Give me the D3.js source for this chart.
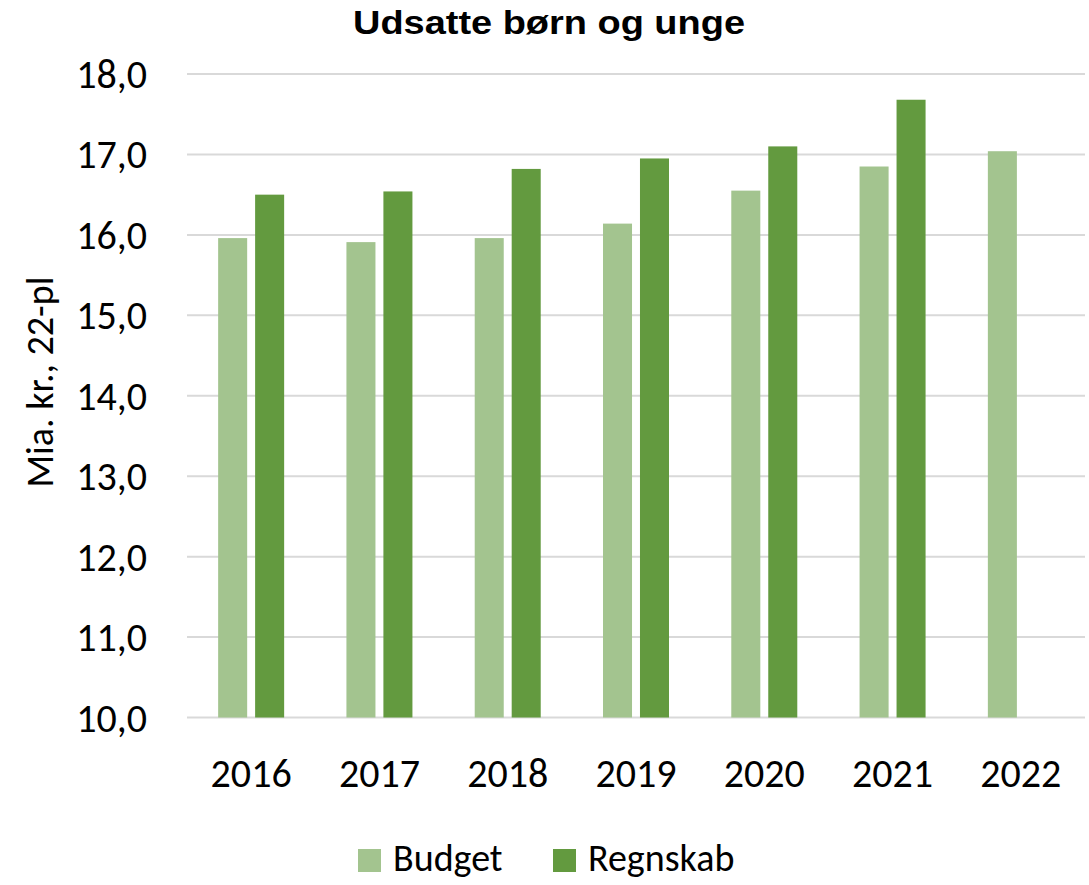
<!DOCTYPE html>
<html>
<head>
<meta charset="utf-8">
<script src="https://cdn.jsdelivr.net/npm/d3@7"></script>
<style>
  body { margin: 0; background: #fff; }
  svg text { fill: #000; }
</style>
</head>
<body>
<svg id="chart" width="1089" height="885"></svg>
<script>
const years = ["2016", "2017", "2018", "2019", "2020", "2021", "2022"];
const budget = [15.96, 15.91, 15.96, 16.14, 16.55, 16.85, 17.04];
const regnskab = [16.50, 16.54, 16.82, 16.95, 17.10, 17.68, null];
const seriesNames = ["Budget", "Regnskab"];
const yTicks = [10, 11, 12, 13, 14, 15, 16, 17, 18];

const colors = { Budget: "#A3C48F", Regnskab: "#639A3F" };
const tickFont = "Carlito, Calibri, 'Open Sans', sans-serif";

const margin = { top: 74, left: 187, right: 4, bottom: 168 };
const width = 1089, height = 885;

const svg = d3.select("#chart");

const x = d3.scaleBand()
  .domain(years)
  .range([margin.left, width - margin.right]);

const sub = d3.scaleBand()
  .domain(seriesNames)
  .range([0, 66])
  .paddingInner(0.215);

const y = d3.scaleLinear()
  .domain([10, 18])
  .range([height - margin.bottom + 0.5, margin.top]);

// gridlines
svg.append("g")
  .selectAll("line")
  .data(yTicks)
  .enter()
  .append("line")
  .attr("x1", margin.left)
  .attr("x2", width - margin.right)
  .attr("y1", (d) => y(d))
  .attr("y2", (d) => y(d))
  .attr("stroke", "#d9d9d9")
  .attr("stroke-width", 2);

// y tick labels
svg.append("g")
  .selectAll("text")
  .data(yTicks)
  .enter()
  .append("text")
  .attr("x", 147)
  .attr("y", (d) => y(d))
  .attr("dy", "0.35em")
  .attr("text-anchor", "end")
  .style("font-family", tickFont)
  .style("font-size", "40px")
  .text((d) => d3.format(".1f")(d).replace(".", ","));

// bars
const rows = years.map((yr, i) => ({ year: yr, Budget: budget[i], Regnskab: regnskab[i] }));
const groups = svg.append("g")
  .selectAll("g")
  .data(rows)
  .enter()
  .append("g")
  .attr("transform", (d) => `translate(${x(d.year) + x.bandwidth() / 2 - 33},0)`);

groups.selectAll("rect")
  .data((d) => seriesNames.filter((s) => d[s] != null).map((s) => ({ key: s, value: d[s] })))
  .enter()
  .append("rect")
  .attr("x", (d) => sub(d.key))
  .attr("width", sub.bandwidth())
  .attr("y", (d) => y(d.value))
  .attr("height", (d) => y(10) - y(d.value))
  .attr("fill", (d) => colors[d.key]);

// x labels
svg.append("g")
  .selectAll("text")
  .data(years)
  .enter()
  .append("text")
  .attr("x", (d) => x(d) + x.bandwidth() / 2)
  .attr("y", 773)
  .attr("dy", "0.35em")
  .attr("text-anchor", "middle")
  .style("font-family", tickFont)
  .style("font-size", "40px")
  .text((d) => d);

// y axis title
svg.append("text")
  .attr("transform", "translate(40,382) rotate(-90)")
  .attr("text-anchor", "middle")
  .attr("dy", "0.35em")
  .style("font-family", tickFont)
  .style("font-size", "38px")
  .text("Mia. kr., 22-pl");

// title
svg.append("text")
  .attr("x", 549)
  .attr("y", 34)
  .attr("text-anchor", "middle")
  .attr("textLength", 392)
  .attr("lengthAdjust", "spacingAndGlyphs")
  .style("font-family", "'Liberation Sans', Arial, sans-serif")
  .style("font-weight", "bold")
  .style("font-size", "33px")
  .text("Udsatte børn og unge");

// legend
const legendX = [358, 553];
const legend = svg.append("g")
  .selectAll("g")
  .data(seriesNames)
  .enter()
  .append("g")
  .attr("transform", (d, i) => `translate(${legendX[i]},849)`);

legend.append("rect")
  .attr("width", 23)
  .attr("height", 23)
  .attr("fill", (d) => colors[d]);

legend.append("text")
  .attr("x", 35)
  .attr("y", 22)
  .style("font-family", tickFont)
  .style("font-size", "38px")
  .text((d) => d);
</script>
</body>
</html>
